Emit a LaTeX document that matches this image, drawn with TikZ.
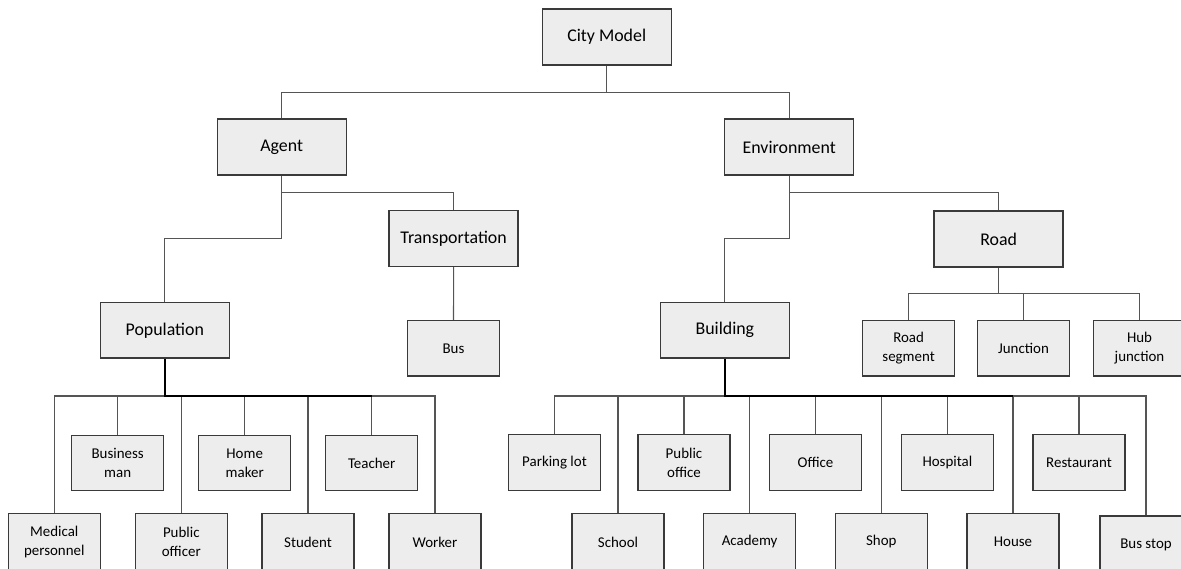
\documentclass[tikz,border=0pt]{standalone}
\usepackage{fontspec}
\setmainfont{Carlito}
\definecolor{boxfill}{HTML}{EDEDED}
\definecolor{boxline}{HTML}{3A3A3A}
\definecolor{connline}{HTML}{555555}
\begin{document}
\begin{tikzpicture}[x=0.75pt,y=-0.75pt,
  bigbox/.style={draw=boxline,fill=boxfill,line width=1pt,minimum width=129*0.75pt,minimum height=55.7*0.75pt,inner sep=0pt,font=\fontsize{13.4}{15}\selectfont,align=center},
  smallbox/.style={draw=boxline,fill=boxfill,line width=1pt,minimum width=92*0.75pt,minimum height=55.5*0.75pt,inner sep=0pt,font=\fontsize{11.2}{14.25}\selectfont,align=center},
  lowbox/.style={smallbox,minimum height=57.4*0.75pt},
  conn/.style={draw=connline,line width=0.8pt},
  thickconn/.style={draw=black,line width=1.6pt}]
\useasboundingbox (0,0) rectangle (1181,568);
% levels
\coordinate (topbus) at (0,92.3);
\coordinate (agbus) at (0,192.7);
\coordinate (popmid) at (0,238.7);
\coordinate (roadbus) at (0,293.3);
\coordinate (popbus) at (0,396);
% nodes
\node[bigbox] (city) at (606.7,37) {City Model};
\node[bigbox] (agent) at (281.7,147) {Agent};
\node[bigbox] (env) at (789.2,147) {Environment};
\node[bigbox] (trans) at (453.6,238.5) {Transportation};
\node[bigbox] (road) at (998.6,239) {Road};
\node[bigbox] (pop) at (164.8,330.3) {Population};
\node[bigbox] (build) at (724.9,330.3) {Building};
\node[smallbox] (bus) at (453.5,348.3) {Bus};
\node[smallbox] (roadseg) at (908.6,348.3) {Road\\segment};
\node[smallbox] (junction) at (1023.5,348.3) {Junction};
\node[smallbox] (hub) at (1139.5,348.3) {Hub\\junction};
% population children
\node[smallbox] (business) at (117.7,463) {Business\\man};
\node[smallbox] (home) at (244.7,463) {Home\\maker};
\node[smallbox] (teacher) at (371.7,463) {Teacher};
\node[lowbox] (medical) at (54.3,542) {Medical\\personnel};
\node[lowbox] (pubofficer) at (181.3,542) {Public\\officer};
\node[lowbox] (student) at (308,542) {Student};
\node[lowbox] (worker) at (435,542) {Worker};
% building children
\node[smallbox] (parking) at (554.5,462.5) {Parking lot};
\node[smallbox] (puboffice) at (684,462.5) {Public\\office};
\node[smallbox] (office) at (815.5,462.5) {Office};
\node[smallbox] (hospital) at (947.4,462.5) {Hospital};
\node[smallbox] (restaurant) at (1079,462.5) {Restaurant};
\node[lowbox] (school) at (618,542) {School};
\node[lowbox] (academy) at (749.6,542) {Academy};
\node[lowbox] (shop) at (881.3,542) {Shop};
\node[lowbox] (house) at (1013,542) {House};
\node[lowbox] (busstop) at (1146,544.7) {Bus stop};
% connectors
\draw[conn] (city.south) -- (city.south |- topbus);
\draw[conn] (agent.north) -- (agent.north |- topbus) -| (env.north);
\draw[conn] (agent.south) -- (agent.south |- agbus) -| (trans.north);
\draw[conn] (agent.south |- agbus) -- (agent.south |- popmid) -| (pop.north);
\draw[conn] (trans.south) -- (bus.north);
\draw[conn] (env.south) -- (env.south |- agbus) -| (road.north);
\draw[conn] (env.south |- agbus) -- (env.south |- popmid) -| (build.north);
\draw[conn] (road.south) -- (road.south |- roadbus);
\draw[conn] (roadseg.north) -- (roadseg.north |- roadbus) -| (hub.north);
\draw[conn] (junction.north) -- (junction.north |- roadbus);
% population bus
\draw[conn] (medical.north) -- (medical.north |- popbus) -- (worker.north |- popbus) -- (worker.north);
\foreach \c in {business,home,teacher,pubofficer,student}
  \draw[conn] (\c.north) -- (\c.north |- popbus);
\draw[thickconn] (pop.south) -- (pop.south |- popbus) -- (teacher.north |- popbus);
% building bus
\draw[conn] (parking.north) -- (parking.north |- popbus) -- (busstop.north |- popbus) -- (busstop.north);
\foreach \c in {puboffice,office,hospital,restaurant,school,academy,shop,house}
  \draw[conn] (\c.north) -- (\c.north |- popbus);
\draw[thickconn] (build.south) -- (build.south |- popbus) -- (house.north |- popbus);
\end{tikzpicture}
\end{document}
